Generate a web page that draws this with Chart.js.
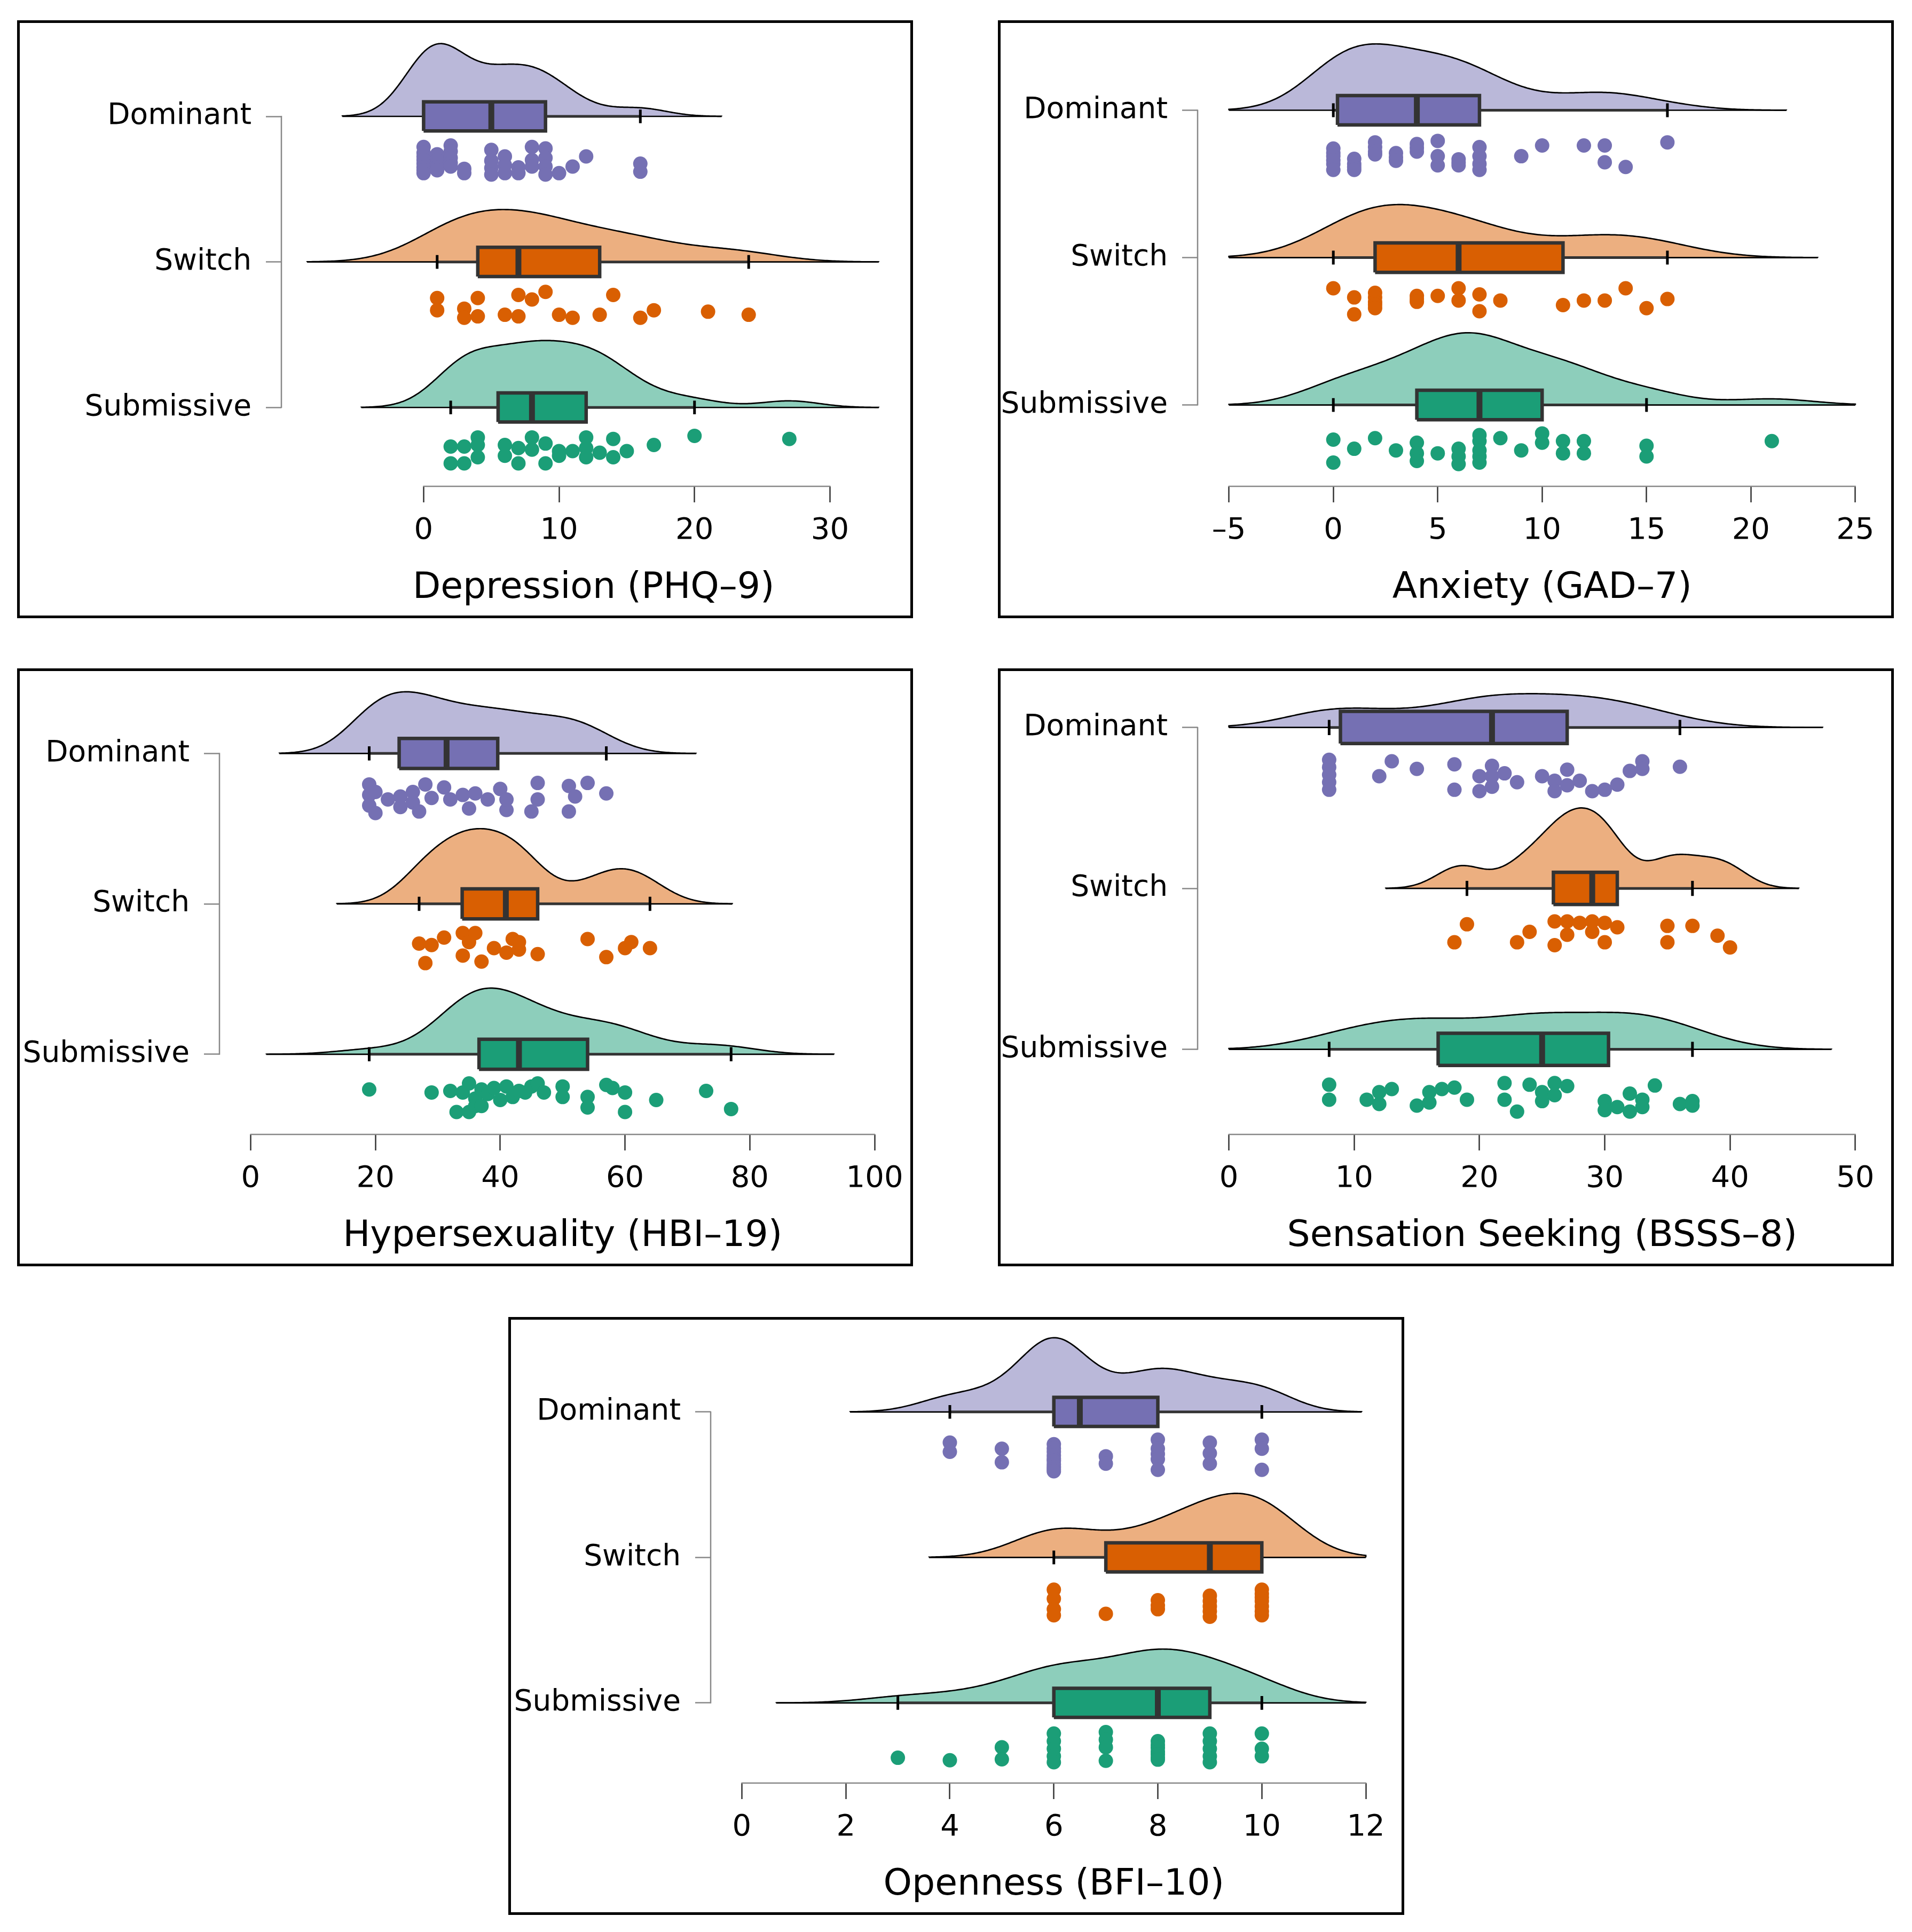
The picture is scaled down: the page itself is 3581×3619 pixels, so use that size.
<!DOCTYPE html>
<html><head><meta charset="utf-8">
<script src="https://cdn.jsdelivr.net/npm/chart.js@4.4.0/dist/chart.umd.min.js"></script>
<style>
html,body{margin:0;padding:0;background:#fff;}
body{width:3581px;height:3619px;position:relative;overflow:hidden;}
.panel{position:absolute;width:1678px;height:1120px;}
.panel canvas{position:absolute;left:0;top:0;}
.frame{position:absolute;left:0;top:0;width:1678px;height:1120px;box-sizing:border-box;border:5px solid #000;pointer-events:none;}
</style></head><body>
<div class="panel" id="p0"><canvas id="c0" width="1678" height="1120"></canvas><div class="frame"></div></div>
<div class="panel" id="p1"><canvas id="c1" width="1678" height="1120"></canvas><div class="frame"></div></div>
<div class="panel" id="p2"><canvas id="c2" width="1678" height="1120"></canvas><div class="frame"></div></div>
<div class="panel" id="p3"><canvas id="c3" width="1678" height="1120"></canvas><div class="frame"></div></div>
<div class="panel" id="p4"><canvas id="c4" width="1678" height="1120"></canvas><div class="frame"></div></div>
<script>
// ---------------- DATA ----------------
const groupNames = ['Dominant', 'Switch', 'Submissive'];
const groupPos = [3, 2, 1];

// Depression (PHQ-9)
const depTitle = 'Depression (PHQ–9)';
const depTicks = [0, 10, 20, 30];
const depDomVals = [0,0,0,0,0,0,0,0,1,1,1,1,1,2,2,2,2,2,3,3,5,5,5,5,6,6,6,7,7,8,8,8,9,9,9,9,10,11,12,16,16];
const depDomJit  = [0.21,0.25,0.275,0.3,0.325,0.35,0.37,0.39,0.26,0.3,0.325,0.35,0.37,0.2,0.24,0.285,0.32,0.345,0.36,0.39,0.23,0.305,0.355,0.4,0.275,0.335,0.39,0.35,0.39,0.21,0.3,0.345,0.22,0.285,0.345,0.4,0.39,0.345,0.275,0.325,0.38];
const depSwiVals = [1,1,3,3,4,4,6,7,7,8,9,10,11,13,14,16,17,21,24];
const depSwiJit  = [0.248,0.332,0.321,0.384,0.248,0.374,0.363,0.227,0.374,0.258,0.206,0.363,0.384,0.363,0.227,0.384,0.332,0.342,0.363];
const depSubVals = [2,2,3,3,4,4,4,6,6,7,7,8,8,9,9,10,10,11,12,12,12,13,14,14,15,17,20,27];
const depSubJit  = [0.269,0.384,0.269,0.384,0.206,0.258,0.342,0.258,0.332,0.279,0.384,0.206,0.29,0.248,0.384,0.3,0.332,0.3,0.206,0.279,0.342,0.311,0.216,0.342,0.3,0.258,0.195,0.216];
const depBoxDom = [0, 0, 5, 9, 16];
const depBoxSwi = [1, 4, 7, 13, 24];
const depBoxSub = [2, 5.5, 8, 12, 20];
const depBw = [2.0, 3.2, 2.2];
const depPeak = [0.50, 0.36, 0.46];
const depClip = [-Infinity, Infinity];
const depXRange = [-10.5, 35.6];
const depYRange = [0.458, 3.576];

// Anxiety (GAD-7)
const anxTitle = 'Anxiety (GAD–7)';
const anxTicks = [-5, 0, 5, 10, 15, 20, 25];
const anxDomVals = [0,0,0,0,0,0,1,1,1,1,2,2,2,2,3,3,3,4,4,4,5,5,5,6,6,6,7,7,7,7,9,10,12,13,13,14,16];
const anxDomJit  = [0.26,0.29,0.312,0.34,0.364,0.405,0.33,0.364,0.385,0.405,0.218,0.25,0.281,0.3,0.291,0.32,0.343,0.229,0.255,0.281,0.208,0.312,0.374,0.333,0.355,0.374,0.25,0.312,0.364,0.405,0.312,0.239,0.239,0.239,0.353,0.385,0.218];
const anxSwiVals = [0,1,1,2,2,2,2,2,4,4,4,5,6,6,7,7,8,11,12,13,14,15,16];
const anxSwiJit  = [0.208,0.27,0.385,0.239,0.27,0.301,0.32,0.343,0.26,0.281,0.3,0.26,0.208,0.291,0.25,0.364,0.291,0.322,0.291,0.291,0.208,0.343,0.281];
const anxSubVals = [0,0,1,2,3,4,4,4,5,6,6,6,7,7,7,7,7,8,9,10,10,11,11,12,12,15,15,21];
const anxSubJit  = [0.235,0.391,0.297,0.225,0.308,0.256,0.328,0.38,0.328,0.297,0.349,0.401,0.204,0.245,0.308,0.349,0.391,0.225,0.308,0.193,0.256,0.245,0.328,0.245,0.328,0.277,0.349,0.245];
const anxBoxDom = [0, 0.2, 4, 7, 16];
const anxBoxSwi = [0, 2, 6, 11, 16];
const anxBoxSub = [0, 4, 7, 10, 15];
const anxBw = [1.9, 2.4, 2.0];
const anxPeak = [0.45, 0.36, 0.49];
const anxClip = [-5, 25];
const anxXRange = [-6.5, 26.5];
const anxYRange = [0.448, 3.527];

// Hypersexuality (HBI-19)
const hypTitle = 'Hypersexuality (HBI–19)';
const hypTicks = [0, 20, 40, 60, 80, 100];
const hypDomVals = [19,19,19,20,20,22,24,24,26,26,27,28,29,31,32,34,35,36,38,40,41,41,45,46,46,51,51,52,54,57];
const hypDomJit  = [0.206,0.276,0.346,0.396,0.256,0.306,0.356,0.286,0.256,0.326,0.386,0.206,0.296,0.226,0.306,0.276,0.366,0.266,0.306,0.236,0.376,0.306,0.386,0.196,0.306,0.216,0.386,0.286,0.196,0.266];
const hypSwiVals = [27,28,29,31,34,34,35,36,37,39,41,42,43,43,46,54,57,60,61,64];
const hypSwiJit  = [0.264,0.394,0.274,0.224,0.194,0.344,0.254,0.194,0.384,0.294,0.324,0.234,0.304,0.254,0.334,0.234,0.354,0.294,0.254,0.294];
const hypSubVals = [19,29,32,33,34,35,35,36,36,37,37,38,39,40,41,42,43,44,45,46,47,50,50,54,54,57,58,60,60,65,73,77];
const hypSubJit  = [0.234,0.254,0.244,0.384,0.254,0.194,0.384,0.294,0.344,0.234,0.344,0.264,0.224,0.304,0.214,0.284,0.244,0.254,0.214,0.194,0.254,0.214,0.284,0.284,0.354,0.204,0.224,0.254,0.384,0.304,0.244,0.364];
const hypBoxDom = [19, 23.8, 31.4, 39.6, 57];
const hypBoxSwi = [27, 33.9, 40.9, 46, 64];
const hypBoxSub = [19, 36.6, 43, 54, 77];
const hypBw = [4.8, 4.4, 5.5];
const hypPeak = [0.41, 0.50, 0.44];
const hypClip = [-Infinity, Infinity];
const hypXRange = [-5, 105];
const hypYRange = [0.467, 3.484];

// Sensation Seeking (BSSS-8)
const ssTitle = 'Sensation Seeking (BSSS–8)';
const ssTicks = [0, 10, 20, 30, 40, 50];
const ssDomVals = [8,8,8,8,8,12,13,15,18,18,20,20,21,21,21,22,23,25,26,26,27,27,28,29,30,31,32,33,33,36];
const ssDomJit  = [0.201,0.247,0.294,0.34,0.387,0.303,0.21,0.257,0.229,0.387,0.303,0.396,0.238,0.303,0.368,0.285,0.34,0.303,0.331,0.396,0.262,0.359,0.331,0.396,0.387,0.355,0.27,0.21,0.257,0.244];
const ssSwiVals = [18,19,23,24,26,26,27,27,28,29,29,30,30,31,35,35,37,39,40];
const ssSwiJit  = [0.335,0.223,0.335,0.27,0.205,0.353,0.205,0.288,0.214,0.205,0.27,0.214,0.335,0.242,0.233,0.335,0.233,0.294,0.367];
const ssSubVals = [8,8,11,12,12,13,15,16,16,17,18,19,22,22,23,24,25,25,26,26,27,30,30,31,32,32,33,33,34,36,37,37];
const ssSubJit  = [0.22,0.313,0.313,0.266,0.34,0.247,0.35,0.331,0.266,0.247,0.238,0.313,0.21,0.313,0.387,0.22,0.266,0.322,0.21,0.285,0.229,0.322,0.378,0.359,0.275,0.387,0.313,0.359,0.225,0.34,0.322,0.35];
const ssBoxDom = [8, 8.9, 21, 27, 36];
const ssBoxSwi = [19, 25.9, 29, 31, 37];
const ssBoxSub = [8, 16.7, 25, 30.3, 37];
const ssBw = [3.8, 1.83, 3.7];
const ssPeak = [0.21, 0.50, 0.23];
const ssClip = [0, 50];
const ssXRange = [-2.5, 52.5];
const ssYRange = [0.471, 3.291];

// Openness (BFI-10)
const opTitle = 'Openness (BFI–10)';
const opTicks = [0, 2, 4, 6, 8, 10, 12];
const opDomVals = [4,4,5,5,6,6,6,6,6,6,6,6,6,6,7,7,8,8,8,8,8,9,9,9,10,10,10];
const opDomJit  = [0.211,0.274,0.253,0.346,0.222,0.25,0.274,0.3,0.32,0.336,0.36,0.38,0.395,0.408,0.305,0.356,0.191,0.253,0.29,0.325,0.398,0.211,0.284,0.356,0.191,0.253,0.398];
const opSwiVals = [6,6,6,6,7,8,8,8,9,9,9,9,9,10,10,10,10,10,10,10];
const opSwiJit  = [0.222,0.284,0.356,0.398,0.388,0.294,0.33,0.356,0.263,0.3,0.336,0.37,0.408,0.222,0.25,0.274,0.3,0.336,0.37,0.398];
const opSubVals = [3,4,5,5,6,6,6,6,6,7,7,7,7,8,8,8,8,8,8,8,9,9,9,9,9,10,10,10];
const opSubJit  = [0.377,0.394,0.305,0.388,0.211,0.263,0.315,0.367,0.408,0.201,0.253,0.305,0.398,0.263,0.29,0.31,0.336,0.355,0.377,0.39,0.211,0.263,0.315,0.367,0.408,0.211,0.315,0.367];
const opBoxDom = [4, 6, 6.5, 8, 10];
const opBoxSwi = [6, 7, 9, 10, 10];
const opBoxSub = [3, 6, 8, 9, 10];
const opBw = [0.64, 0.8, 0.78];
const opPeak = [0.51, 0.44, 0.37];
const opClip = [0, 12];
const opXRange = [-0.6, 12.6];
const opYRange = [0.449, 3.568];

// ---------------- STYLE / LAYOUT ----------------
const boxFill = ['#7570B3', '#D95F02', '#1B9E77'];
const densFill = ['#BAB8D9', '#ECAF80', '#8DCEBB'];
const layout = [
  {left: 32,   top: 38,   plotLeft: 495},
  {left: 1869, top: 38,   plotLeft: 374},
  {left: 32,   top: 1252, plotLeft: 379},
  {left: 1869, top: 1252, plotLeft: 374},
  {left: 952,  top: 2467, plotLeft: 379}
];
const PANEL_H = 1120, PLOT_TOP = 23, PLOT_BOTTOM = 873, PLOT_RIGHT_PAD = 8;
const BOX_HALF = 0.1, CAP_HALF = 0.047;

const panels = [
  {title: depTitle, ticks: depTicks, vals: [depDomVals, depSwiVals, depSubVals], jit: [depDomJit, depSwiJit, depSubJit],
   box: [depBoxDom, depBoxSwi, depBoxSub], bw: depBw, peak: depPeak, clip: depClip, xr: depXRange, yr: depYRange},
  {title: anxTitle, ticks: anxTicks, vals: [anxDomVals, anxSwiVals, anxSubVals], jit: [anxDomJit, anxSwiJit, anxSubJit],
   box: [anxBoxDom, anxBoxSwi, anxBoxSub], bw: anxBw, peak: anxPeak, clip: anxClip, xr: anxXRange, yr: anxYRange},
  {title: hypTitle, ticks: hypTicks, vals: [hypDomVals, hypSwiVals, hypSubVals], jit: [hypDomJit, hypSwiJit, hypSubJit],
   box: [hypBoxDom, hypBoxSwi, hypBoxSub], bw: hypBw, peak: hypPeak, clip: hypClip, xr: hypXRange, yr: hypYRange},
  {title: ssTitle, ticks: ssTicks, vals: [ssDomVals, ssSwiVals, ssSubVals], jit: [ssDomJit, ssSwiJit, ssSubJit],
   box: [ssBoxDom, ssBoxSwi, ssBoxSub], bw: ssBw, peak: ssPeak, clip: ssClip, xr: ssXRange, yr: ssYRange},
  {title: opTitle, ticks: opTicks, vals: [opDomVals, opSwiVals, opSubVals], jit: [opDomJit, opSwiJit, opSubJit],
   box: [opBoxDom, opBoxSwi, opBoxSub], bw: opBw, peak: opPeak, clip: opClip, xr: opXRange, yr: opYRange}
];

// ---------------- HELPERS ----------------
// Gaussian kernel density of the raw values; open curve from lo to hi (both ends on the baseline)
function densityCurve(vals, bw, peak, base, clip) {
  let lo = Math.min(...vals) - 3 * bw, hi = Math.max(...vals) + 3 * bw;
  lo = Math.max(lo, clip[0]); hi = Math.min(hi, clip[1]);
  const n = 300, dens = [];
  for (let i = 0; i < n; i++) {
    const x = lo + (hi - lo) * i / (n - 1);
    let s = 0;
    for (const v of vals) { const z = (x - v) / bw; s += Math.exp(-0.5 * z * z); }
    dens.push([x, s]);
  }
  const m = Math.max(...dens.map(d => d[1]));
  const pts = [{x: lo, y: base}];
  dens.forEach(([x, s]) => pts.push({x, y: base + s / m * peak}));
  pts.push({x: hi, y: base});
  return {pts, lo, hi};
}
function fmtTick(v) { return v < 0 ? '–' + Math.abs(v) : String(v); }

const cappedAxes = {
  id: 'cappedAxes',
  afterDraw(chart) {
    const {ctx, scales: {x, y}, chartArea} = chart;
    const t = x.ticks;
    ctx.save();
    ctx.strokeStyle = '#888';
    ctx.lineWidth = 2.5;
    ctx.beginPath();
    const yb = chartArea.bottom;
    ctx.moveTo(x.getPixelForValue(t[0].value) - 1, yb);
    ctx.lineTo(x.getPixelForValue(t[t.length - 1].value) + 1, yb);
    ctx.moveTo(chartArea.left, y.getPixelForValue(groupPos[groupPos.length - 1]) + 1);
    ctx.lineTo(chartArea.left, y.getPixelForValue(groupPos[0]) - 1);
    ctx.stroke();
    ctx.restore();
  }
};

Chart.defaults.font.family = "'DejaVu Sans', sans-serif";

function lineDs(order, data, color, width, extra) {
  return Object.assign({
    type: 'line', order, data, borderColor: color, borderWidth: width,
    pointRadius: 0, pointHoverRadius: 0, tension: 0, fill: false
  }, extra || {});
}

panels.forEach((p, pi) => {
  const L = layout[pi];
  const div = document.getElementById('p' + pi);
  div.style.left = L.left + 'px';
  div.style.top = L.top + 'px';
  const datasets = [];
  for (let g = 0; g < 3; g++) {
    const base = groupPos[g];
    const b = p.box[g];
    const dc = densityCurve(p.vals[g], p.bw[g], p.peak[g], base, p.clip);
    // density (half violin), filled down to the group baseline
    datasets.push(lineDs(8, dc.pts, '#000', 2.7, {backgroundColor: densFill[g], fill: {value: base}}));
    // density baseline
    datasets.push(lineDs(7, [{x: dc.lo, y: base}, {x: dc.hi, y: base}], '#000', 2.7));
    // whisker line
    datasets.push(lineDs(6, [{x: b[0], y: base}, {x: b[4], y: base}], '#333', 5));
    // whisker caps
    [b[0], b[4]].forEach(v => datasets.push(lineDs(5, [{x: v, y: base - CAP_HALF}, {x: v, y: base + CAP_HALF}], '#000', 5)));
    // box fill (top edge filled down to bottom edge)
    datasets.push(lineDs(4, [{x: b[1], y: base + BOX_HALF}, {x: b[3], y: base + BOX_HALF}], 'rgba(0,0,0,0)', 0,
      {backgroundColor: boxFill[g], fill: {value: base - BOX_HALF}}));
    // box outline
    datasets.push(lineDs(3, [{x: b[1], y: base - BOX_HALF}, {x: b[3], y: base - BOX_HALF}, {x: b[3], y: base + BOX_HALF},
      {x: b[1], y: base + BOX_HALF}, {x: b[1], y: base - BOX_HALF}], '#333', 6.5, {borderJoinStyle: 'miter'}));
    // median
    datasets.push(lineDs(2, [{x: b[2], y: base - BOX_HALF}, {x: b[2], y: base + BOX_HALF}], '#333', 11, {borderCapStyle: 'butt'}));
    // raw points
    datasets.push({
      type: 'scatter', order: 1,
      data: p.vals[g].map((v, i) => ({x: v, y: base - p.jit[g][i]})),
      pointRadius: 13.5, pointHoverRadius: 13.5, pointBorderWidth: 0,
      pointBackgroundColor: boxFill[g], pointBorderColor: boxFill[g], backgroundColor: boxFill[g], borderColor: boxFill[g]
    });
  }
  new Chart(document.getElementById('c' + pi), {
    type: 'scatter',
    data: {datasets},
    plugins: [cappedAxes],
    options: {
      responsive: false, animation: false, devicePixelRatio: 1, events: [],
      layout: {padding: {top: PLOT_TOP, right: PLOT_RIGHT_PAD, bottom: 0, left: 0}},
      plugins: {legend: {display: false}, tooltip: {enabled: false}},
      scales: {
        x: {
          type: 'linear', position: 'bottom', min: p.xr[0], max: p.xr[1],
          afterBuildTicks: s => { s.ticks = p.ticks.map(v => ({value: v})); },
          afterFit: s => { s.height = PANEL_H - PLOT_BOTTOM; s.paddingLeft = 0; s.paddingRight = 0; },
          border: {display: false},
          grid: {display: true, drawOnChartArea: false, drawTicks: true, tickLength: 30, tickColor: '#333', tickWidth: 2.5},
          ticks: {autoSkip: false, maxRotation: 0, padding: 20, color: '#000', font: {size: 56}, callback: v => fmtTick(v)},
          title: {display: true, text: p.title, color: '#000', font: {size: 68}, padding: {top: 0, bottom: 15}}
        },
        y: {
          type: 'linear', position: 'left', min: p.yr[0], max: p.yr[1],
          afterBuildTicks: s => { s.ticks = groupPos.map(v => ({value: v})); },
          afterFit: s => { s.width = L.plotLeft; s.paddingTop = 0; s.paddingBottom = 0; },
          border: {display: false},
          grid: {display: true, drawOnChartArea: false, drawTicks: true, tickLength: 29, tickColor: '#888', tickWidth: 2.5},
          ticks: {autoSkip: false, padding: 27, color: '#000', font: {size: 55},
                  callback: v => groupNames[groupPos.indexOf(v)]}
        }
      }
    }
  });
});
</script>
</body></html>
